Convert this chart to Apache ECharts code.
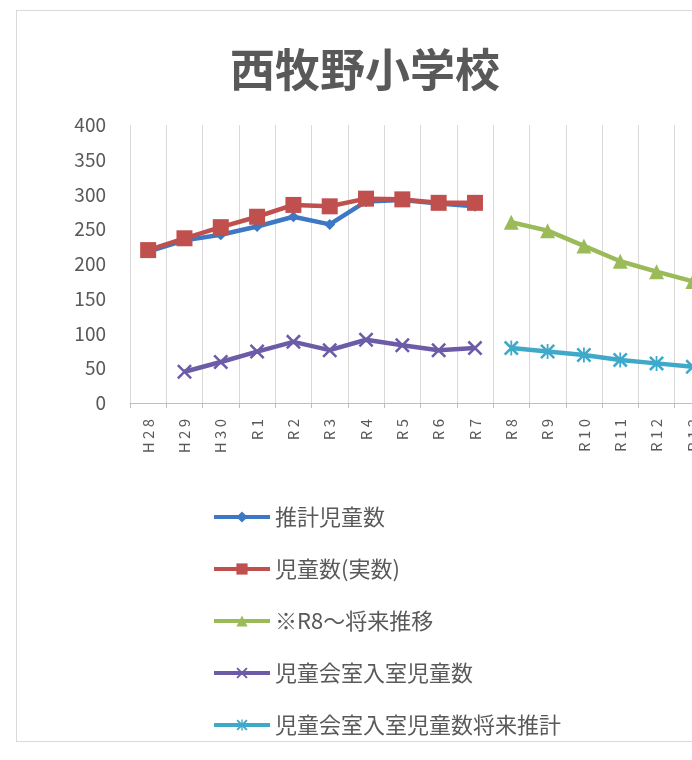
<!DOCTYPE html>
<html>
<head>
<meta charset="utf-8">
<script src="https://cdn.jsdelivr.net/npm/echarts@6/dist/echarts.min.js"></script>
<style>
  html, body { margin: 0; padding: 0; width: 692px; height: 760px; overflow: hidden; background: #fff; }
  #frame { position: absolute; left: 16px; top: 10px; width: 800px; height: 730px; border: 1px solid #d9d9d9; pointer-events: none; }
  #chart { position: absolute; left: 0; top: 0; width: 800px; height: 760px; }
</style>
</head>
<body>
<div id="chart"></div>
<div id="frame"></div>
<script>
// 年度
var years = ['H28', 'H29', 'H30', 'R1', 'R2', 'R3', 'R4', 'R5', 'R6', 'R7', 'R8', 'R9', 'R10', 'R11', 'R12', 'R13'];
// 推計児童数
var suikei = [218, 234, 242, 254, 268, 257, 290, 292, 287, 283, null, null, null, null, null, null];
// 児童数(実数)
var jitsusu = [220, 237, 253, 268, 285, 283, 294, 293, 288, 288, null, null, null, null, null, null];
// ※R8～将来推移
var shourai = [null, null, null, null, null, null, null, null, null, null, 260, 248, 226, 204, 189, 175];
// 児童会室入室児童数
var kaishitsu = [null, 45, 59, 74, 88, 76, 91, 83, 76, 79, null, null, null, null, null, null];
// 児童会室入室児童数将来推計
var kaishitsuSuikei = [null, null, null, null, null, null, null, null, null, null, 79, 74, 69, 62, 57, 52];

var crossPath = 'path://M0,1.2L1.2,0L10,8.8L8.8,10ZM8.8,0L10,1.2L1.2,10L0,8.8Z';
var starPath = 'path://M0,1.2L1.2,0L10,8.8L8.8,10ZM8.8,0L10,1.2L1.2,10L0,8.8ZM4.4,0L5.6,0L5.6,10L4.4,10Z';

var myChart = echarts.init(document.getElementById('chart'));
var font = '"Noto Sans CJK JP", "Noto Sans", sans-serif';

myChart.setOption({
    animation: false,
    textStyle: { fontFamily: font },
    title: {
        text: '西牧野小学校',
        left: 360,
        top: 42,
        textAlign: 'center',
        textStyle: { fontSize: 45, fontWeight: 'bold', color: '#595959', fontFamily: font }
    },
    legend: {
        orient: 'vertical',
        left: 207,
        top: 501,
        itemWidth: 56,
        itemHeight: 14,
        itemGap: 30,
        lineStyle: { width: 4 },
        textStyle: { fontSize: 22, color: '#595959', fontFamily: font },
        data: ['推計児童数', '児童数(実数)', '※R8～将来推移', '児童会室入室児童数', '児童会室入室児童数将来推計']
    },
    grid: { left: 130, top: 125, width: 581, height: 278 },
    xAxis: {
        type: 'category',
        data: years,
        boundaryGap: true,
        axisLine: { lineStyle: { color: '#bfbfbf', width: 1 } },
        axisTick: { show: true, length: 5, lineStyle: { color: '#bfbfbf' } },
        splitLine: { show: true, lineStyle: { color: '#d9d9d9', width: 1 } },
        axisLabel: {
            rotate: 90,
            margin: 16,
            fontSize: 15,
            color: '#595959',
            formatter: function (v) { return v.split('').join(' '); }
        }
    },
    yAxis: {
        type: 'value',
        min: 0,
        max: 400,
        interval: 50,
        axisLine: { show: false },
        axisTick: { show: false },
        splitLine: { show: false },
        axisLabel: { fontSize: 19, color: '#595959', margin: 24 }
    },
    series: [
        {
            name: '推計児童数', type: 'line', data: suikei,
            symbol: 'diamond', symbolSize: 11,
            color: '#3c78c3',
            lineStyle: { width: 4.5 }
        },
        {
            name: '児童数(実数)', type: 'line', data: jitsusu,
            symbol: 'rect', symbolSize: 16,
            color: '#c0504d',
            lineStyle: { width: 4.5 }
        },
        {
            name: '※R8～将来推移', type: 'line', data: shourai,
            symbol: 'triangle', symbolSize: 15,
            color: '#9bbb59',
            lineStyle: { width: 4.5 }
        },
        {
            name: '児童会室入室児童数', type: 'line', data: kaishitsu,
            symbol: crossPath, symbolSize: 15,
            color: '#6c5ca8',
            lineStyle: { width: 4.5 }
        },
        {
            name: '児童会室入室児童数将来推計', type: 'line', data: kaishitsuSuikei,
            symbol: starPath, symbolSize: 15,
            color: '#3fa9c9',
            lineStyle: { width: 4.5 }
        }
    ]
});
</script>
</body>
</html>
